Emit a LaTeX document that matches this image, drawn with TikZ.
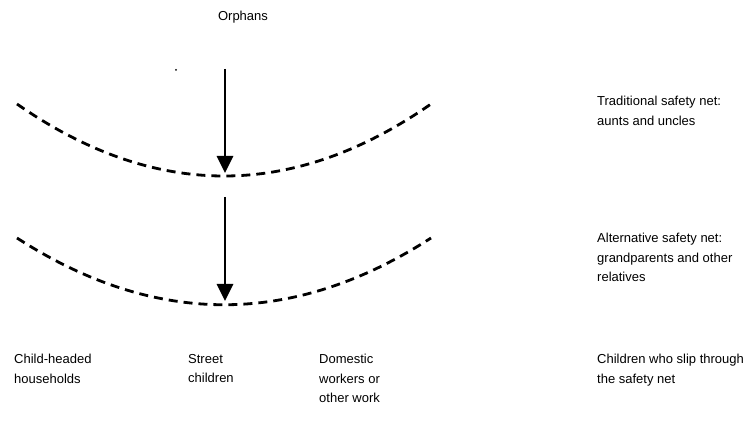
\documentclass[tikz,border=0pt]{standalone}
\usepackage{fontspec}
\setmainfont{Liberation Sans}
\usetikzlibrary{arrows.meta}
\begin{document}
\begin{tikzpicture}[x=1pt,y=-1pt,
  lbl/.style={anchor=north west,inner sep=0pt,align=left,font=\fontsize{13}{19.5}\selectfont},
  net/.style={line width=2.8pt,dash pattern=on 9pt off 6pt},
  arr/.style={line width=2.8pt,-{Triangle[width=16pt,length=17pt]}}]
\useasboundingbox (0,0) rectangle (747,446);
% title
\node[lbl,anchor=center] (orph) at (243,17) {Orphans};
\fill (176,70) circle (1pt);
% nets
\coordinate (n1l) at (17,104); \coordinate (n1r) at (431,104);
\coordinate (n2l) at (17,238); \coordinate (n2r) at (431,238);
\draw[net] (n1l) .. controls (155,200) and (293,200) .. (n1r);
\draw[net] (n2l) .. controls (155,327) and (293,327) .. (n2r);
% arrows
\coordinate (a1s) at (225,69); \coordinate (a1e) at (225,173);
\coordinate (a2s) at (225,197); \coordinate (a2e) at (225,301);
\draw[arr] (a1s) -- (a1e);
\draw[arr] (a2s) -- (a2e);
% right labels
\node[lbl] (trad) at (597,96) {Traditional safety net:\\aunts and uncles};
\node[lbl] (alt) at (597,233) {Alternative safety net:\\grandparents and other\\relatives};
% bottom labels
\node[lbl] (chh) at (14,354) {Child-headed\\households};
\node[lbl] (str) at (188,354) {Street\\children};
\node[lbl] (dom) at (319,354) {Domestic\\workers or\\other work};
\node[lbl] (slip) at (597,354) {Children who slip through\\the safety net};
\end{tikzpicture}
\end{document}
